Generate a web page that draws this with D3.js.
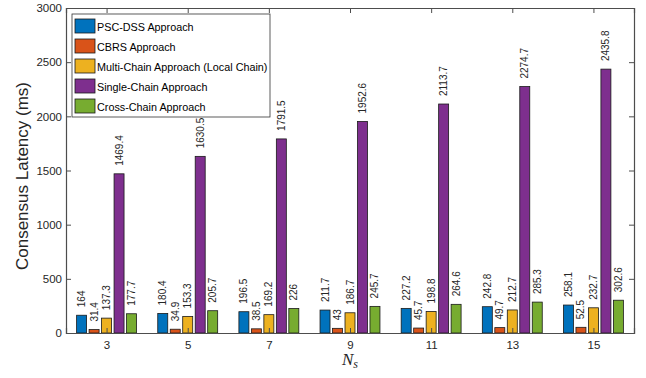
<!DOCTYPE html>
<html>
<head>
<meta charset="utf-8">
<script src="https://cdn.jsdelivr.net/npm/d3@7"></script>
<style>
  body { margin: 0; background: #fff; }
  svg { display: block; font-family: Arial, "Liberation Sans", sans-serif; }
</style>
</head>
<body>
<svg id="chart" width="646" height="378"></svg>
<script>
// Node counts along the x axis
const categories = ["3", "5", "7", "9", "11", "13", "15"];
const seriesNames = [
  "PSC-DSS Approach",
  "CBRS Approach",
  "Multi-Chain Approach (Local Chain)",
  "Single-Chain Approach",
  "Cross-Chain Approach"
];
// Consensus latency (ms) per approach
const pscDss     = [164, 180.4, 196.5, 211.7, 227.2, 242.8, 258.1];
const cbrs       = [31.4, 34.9, 38.5, 43, 45.7, 49.7, 52.5];
const multiChain = [137.3, 153.3, 169.2, 186.7, 198.8, 212.7, 232.7];
const singleChain= [1469.4, 1630.5, 1791.5, 1952.6, 2113.7, 2274.7, 2435.8];
const crossChain = [177.7, 205.7, 226, 245.7, 264.6, 285.3, 302.6];
const yTicks = [0, 500, 1000, 1500, 2000, 2500, 3000];
const colors = ["#0072BD", "#D95319", "#EDB120", "#7E2F8E", "#77AC30"];

const series = [pscDss, cbrs, multiChain, singleChain, crossChain];

const svg = d3.select("#chart");
const margin = { left: 66, right: 12, top: 8, bottom: 45 };
const W = 646, H = 378;
const x0 = margin.left, x1 = W - margin.right;
const y0 = H - margin.bottom, y1 = margin.top;

const x = d3.scaleLinear().domain([0.5, categories.length + 0.5]).range([x0, x1]);
const y = d3.scaleLinear().domain([0, 3000]).range([y0, y1]);

// grouped-bar geometry
const n = series.length;
const groupWidth = Math.min(0.8, n / (n + 1.5));
const slot = groupWidth / n;
const barW = slot * 0.8;

const axisColor = "#4d4d4d";
const textColor = "#262626";

// bars with rotated value labels
series.forEach((vals, si) => {
  const offset = -groupWidth / 2 + slot * (si + 0.5);
  const g = svg.append("g");
  g.selectAll("rect").data(vals).enter().append("rect")
    .attr("x", (d, i) => x(i + 1 + offset - barW / 2))
    .attr("width", (d, i) => x(i + 1 + offset + barW / 2) - x(i + 1 + offset - barW / 2))
    .attr("y", d => y(d))
    .attr("height", d => y(0) - y(d))
    .attr("fill", colors[si])
    .attr("stroke", "#1a1a1a")
    .attr("stroke-width", 0.8);
  g.selectAll("text").data(vals).enter().append("text")
    .attr("transform", (d, i) => `translate(${x(i + 1 + offset) + 3.5},${y(d) - 8}) rotate(-90)`)
    .attr("font-size", 10)
    .attr("fill", textColor)
    .attr("text-anchor", "start")
    .text(d => d);
});

// box axes with inward ticks
const yAxisL = d3.axisLeft(y).tickValues(yTicks).tickSize(-5).tickPadding(4).tickFormat(d3.format("d"));
const yAxisR = d3.axisRight(y).tickValues(yTicks).tickSize(-5).tickFormat("");
const xTickVals = categories.map((c, i) => i + 1);
const xAxisB = d3.axisBottom(x).tickValues(xTickVals).tickSize(-5).tickPadding(8).tickFormat((d, i) => categories[i]);
const xAxisT = d3.axisTop(x).tickValues(xTickVals).tickSize(-5).tickFormat("");

function styleAxis(g) {
  g.select(".domain").attr("stroke", axisColor).attr("stroke-width", 1.2);
  g.selectAll(".tick line").attr("stroke", axisColor).attr("stroke-width", 1);
  g.selectAll(".tick text").attr("fill", textColor).attr("font-size", 11.5)
    .attr("font-family", "Arial, 'Liberation Sans', sans-serif");
}
svg.append("g").attr("transform", `translate(${x0},0)`).call(yAxisL).call(styleAxis);
svg.append("g").attr("transform", `translate(${x1},0)`).call(yAxisR).call(styleAxis);
svg.append("g").attr("transform", `translate(0,${y0})`).call(xAxisB).call(styleAxis);
svg.append("g").attr("transform", `translate(0,${y1})`).call(xAxisT).call(styleAxis);

// axis titles
svg.append("text")
  .attr("transform", `translate(28,176) rotate(-90)`)
  .attr("text-anchor", "middle")
  .attr("font-size", 17)
  .attr("fill", textColor)
  .text("Consensus Latency (ms)");

const xl = svg.append("text")
  .attr("x", 342).attr("y", 365)
  .attr("font-family", "'Liberation Serif', 'DejaVu Serif', serif")
  .attr("font-style", "italic")
  .attr("font-size", 17)
  .attr("fill", textColor);
xl.append("tspan").text("N");
xl.append("tspan").attr("font-size", 12).attr("dy", 3).text("s");

// legend
const lg = svg.append("g").attr("transform", "translate(72,14)");
lg.append("rect").attr("width", 198).attr("height", 103)
  .attr("fill", "#fff").attr("stroke", "#333").attr("stroke-width", 0.8);
seriesNames.forEach((name, i) => {
  const row = lg.append("g").attr("transform", `translate(3,${5 + i * 20})`);
  row.append("rect").attr("width", 20).attr("height", 14)
    .attr("fill", colors[i]).attr("stroke", "#1a1a1a").attr("stroke-width", 0.8);
  row.append("text").attr("x", 22).attr("y", 11.5)
    .attr("font-size", 10.8).attr("fill", "#000").text(name);
});
</script>
</body>
</html>
